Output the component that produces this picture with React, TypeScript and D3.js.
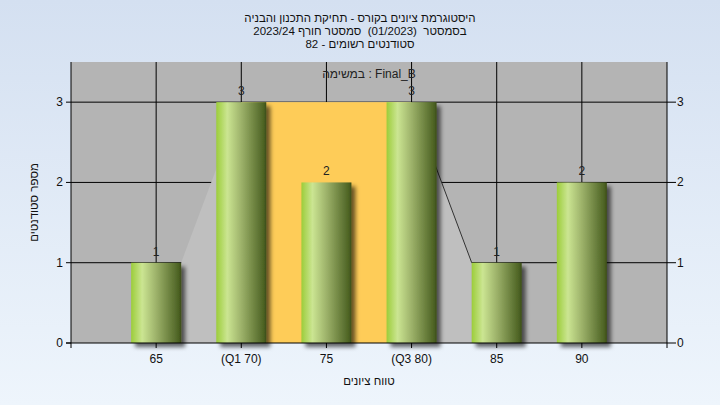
import React from "react";
import * as d3 from "d3";

const titleLines = [
  "היסטוגרמת ציונים בקורס - תחיקת התכנון והבניה",
  "בסמסטר  (01/2023)  סמסטר חורף 2023/24",
  "סטודנטים רשומים - 82",
];
const subtitle = "במשימה : Final_B";
const categories = ["65", "(Q1 70)", "75", "(Q3 80)", "85", "90"];
const counts = [1, 3, 2, 3, 1, 2];
const yTicks = [0, 1, 2, 3];
const yTitle = "מספר סטודנטים";
const xTitle = "טווח ציונים";
const q1Index = 1;
const q3Index = 3;
const lowWhiskerIndex = 0;
const highWhiskerIndex = 4;
const boxHeight = 3;

const W = 720;
const H = 405;
const left = 71;
const right = 667;
const top = 62;
const bottom = 343;
const barW = 50;
const font = "'Liberation Sans', Arial, sans-serif";

export default function App() {
  const x = d3.scaleLinear().domain([0, categories.length + 1]).range([left, right]);
  const y = d3.scaleLinear().domain([0, 3.5]).range([bottom, top]);
  const cx = (i: number) => x(i + 1);

  const polyPts: [number, number][] = [
    [cx(lowWhiskerIndex) + barW / 2, y(0)],
    [cx(lowWhiskerIndex) + barW / 2, y(counts[lowWhiskerIndex])],
    [cx(q1Index), y(boxHeight)],
    [cx(q3Index), y(boxHeight)],
    [cx(highWhiskerIndex) - barW / 2, y(counts[highWhiskerIndex])],
    [cx(highWhiskerIndex) - barW / 2, y(0)],
  ];
  const poly = d3.line()(polyPts) + "Z";

  return (
    <svg
      width={W}
      height={H}
      style={{ position: "fixed", left: 0, top: 0 }}
      fontFamily={font}
    >
      <defs>
        <linearGradient id="bg" x1="0" y1="0" x2="0" y2="1">
          <stop offset="0" stopColor="#d4e0f1" />
          <stop offset="1" stopColor="#eef5fc" />
        </linearGradient>
        <linearGradient id="bar" x1="0" y1="0" x2="1" y2="0">
          <stop offset="0" stopColor="#9ccd3a" />
          <stop offset="0.22" stopColor="#cbe592" />
          <stop offset="0.5" stopColor="#9db26a" />
          <stop offset="0.95" stopColor="#4c6223" />
          <stop offset="1" stopColor="#3b4c18" />
        </linearGradient>
        <filter id="shadow" x="-20%" y="-10%" width="150%" height="130%">
          <feDropShadow dx="4" dy="4" stdDeviation="2" floodColor="#000" floodOpacity="0.6" />
        </filter>
        <clipPath id="plotClip">
          <rect x={left} y={top} width={right - left} height={bottom - top} />
        </clipPath>
      </defs>
      <rect x={0} y={0} width={W} height={H} fill="url(#bg)" />

      {titleLines.map((t, i) => (
        <text
          key={i}
          x={W / 2}
          y={22 + i * 13}
          fontSize={11.5}
          textAnchor="middle"
          direction="rtl"
          fill="#111"
          style={{ whiteSpace: "pre" }}
        >
          {t}
        </text>
      ))}

      <rect x={left} y={top} width={right - left} height={bottom - top} fill="#b4b4b4" />

      {/* gridlines */}
      {yTicks.filter((t) => t > 0).map((t) => (
        <line key={"gy" + t} x1={left} x2={right} y1={y(t)} y2={y(t)} stroke="#000" strokeWidth={1} />
      ))}
      {categories.map((c, i) => (
        <line key={"gx" + i} x1={cx(i)} x2={cx(i)} y1={top} y2={bottom} stroke="#000" strokeWidth={1} />
      ))}

      <g clipPath="url(#plotClip)">
        <path d={poly} fill="#bfbfbf" />
        <rect
          x={cx(q1Index)}
          y={y(boxHeight)}
          width={cx(q3Index) - cx(q1Index)}
          height={y(0) - y(boxHeight)}
          fill="#fecc58"
        />
        <line
          x1={cx(q3Index)}
          y1={y(boxHeight)}
          x2={cx(highWhiskerIndex) - barW / 2}
          y2={y(counts[highWhiskerIndex])}
          stroke="#333"
          strokeWidth={1}
        />
      </g>

      <text x={(left + right) / 2} y={78} fontSize={12} textAnchor="middle" fill="#222">
        {subtitle}
      </text>

      {counts.map((v, i) => (
        <rect
          key={"b" + i}
          x={cx(i) - barW / 2}
          y={y(v)}
          width={barW}
          height={y(0) - y(v)}
          fill="url(#bar)"
          filter="url(#shadow)"
        />
      ))}
      {counts.map((v, i) => (
        <text key={"v" + i} x={cx(i)} y={y(v) - 7} fontSize={12} textAnchor="middle" fill="#222">
          {v}
        </text>
      ))}

      {/* axes */}
      <line x1={left} x2={left} y1={top} y2={bottom + 5} stroke="#000" />
      <line x1={right} x2={right} y1={top} y2={bottom + 5} stroke="#000" />
      <line x1={left - 5} x2={right} y1={bottom} y2={bottom} stroke="#000" />
      {yTicks.map((t) => (
        <g key={"yt" + t}>
          <line x1={left - 5} x2={left} y1={y(t)} y2={y(t)} stroke="#000" />
          <text x={left - 8} y={y(t) + 4} fontSize={12} textAnchor="end" fill="#111">
            {t}
          </text>
          <line x1={right} x2={right + 9} y1={y(t)} y2={y(t)} stroke="#000" />
          <text x={right + 10} y={y(t) + 4} fontSize={12} textAnchor="start" fill="#111">
            {t}
          </text>
        </g>
      ))}
      {categories.map((c, i) => (
        <g key={"xt" + i}>
          <line x1={cx(i)} x2={cx(i)} y1={bottom} y2={bottom + 5} stroke="#000" />
          <text x={cx(i)} y={bottom + 20} fontSize={12} textAnchor="middle" fill="#111">
            {c}
          </text>
        </g>
      ))}

      <text x={(left + right) / 2} y={385} fontSize={11.5} textAnchor="middle" direction="rtl" fill="#111">
        {xTitle}
      </text>
      <text
        transform={`translate(38,${(top + bottom) / 2}) rotate(-90)`}
        fontSize={11.5}
        textAnchor="middle"
        direction="rtl"
        fill="#111"
      >
        {yTitle}
      </text>
    </svg>
  );
}
